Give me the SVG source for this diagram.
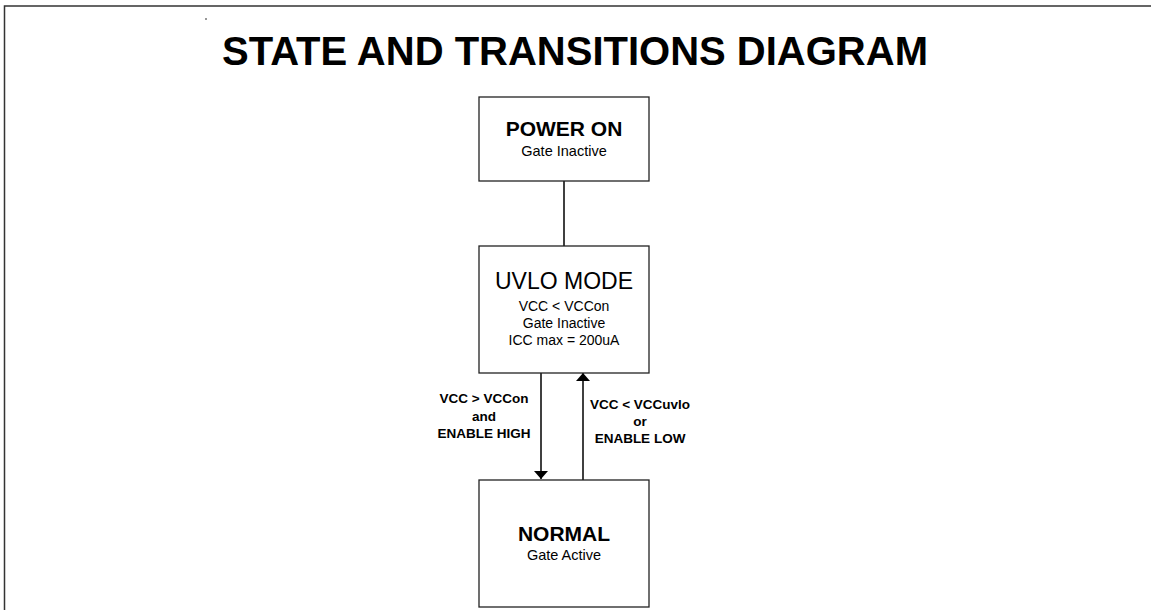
<svg xmlns="http://www.w3.org/2000/svg" width="1151" height="610" viewBox="0 0 1151 610">
<defs>
<style>
.box{fill:#fff;stroke:#222;stroke-width:1.3}
.t{font-family:"Liberation Sans",Arial,sans-serif;fill:#000;text-anchor:middle}
.b{font-weight:bold}
.ln{stroke:#000;stroke-width:1.5;fill:none}
</style>
<marker id="ah" viewBox="0 0 8 14" refX="8" refY="7" markerWidth="8" markerHeight="14" markerUnits="userSpaceOnUse" orient="auto">
<path d="M0,0 L8,7 L0,14 Z" fill="#000"/>
</marker>
</defs>
<rect width="1151" height="610" fill="#fff"/>
<path d="M4.5,612 V6 H1153" fill="none" stroke="#333" stroke-width="1.5"/>
<rect x="205" y="18.5" width="2" height="1" fill="#333"/>
<text class="t b" x="575" y="65" font-size="40">STATE AND TRANSITIONS DIAGRAM</text>
<g id="connectors">
<line class="ln" x1="564" y1="181" x2="564" y2="246"/>
<line class="ln" x1="541" y1="373" x2="541" y2="479" marker-end="url(#ah)"/>
<line class="ln" x1="583" y1="480" x2="583" y2="373" marker-end="url(#ah)"/>
<text class="t b" x="484" y="403" font-size="13.5">VCC &gt; VCCon</text>
<text class="t b" x="484" y="420.5" font-size="13.5">and</text>
<text class="t b" x="484" y="438" font-size="13.5">ENABLE HIGH</text>
<text class="t b" x="640" y="409" font-size="13.5">VCC &lt; VCCuvlo</text>
<text class="t b" x="640" y="426" font-size="13.5">or</text>
<text class="t b" x="640" y="443" font-size="13.5">ENABLE LOW</text>
</g>
<g id="power-on">
<rect class="box" x="479" y="97" width="170" height="84"/>
<text class="t b" x="564" y="136" font-size="21">POWER ON</text>
<text class="t" x="564" y="156" font-size="14.5">Gate Inactive</text>
</g>
<g id="uvlo-mode">
<rect class="box" x="479" y="246" width="170" height="127"/>
<text class="t" x="564" y="289" font-size="23">UVLO MODE</text>
<text class="t" x="564" y="311" font-size="14">VCC &lt; VCCon</text>
<text class="t" x="564" y="328" font-size="14">Gate Inactive</text>
<text class="t" x="564" y="344.5" font-size="14">ICC max = 200uA</text>
</g>
<g id="normal">
<rect class="box" x="479" y="480" width="170" height="127"/>
<text class="t b" x="564" y="541" font-size="21">NORMAL</text>
<text class="t" x="564" y="560" font-size="14.5">Gate Active</text>
</g>
</svg>
